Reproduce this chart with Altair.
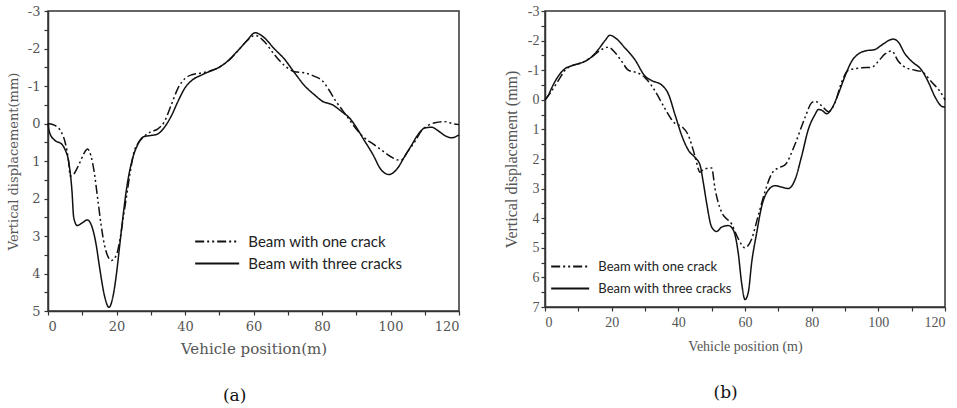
import altair as alt
import pandas as pd

# ---------------- data ----------------
# Panel (a)
a_three_x = [0, 0.5, 2, 4, 5, 6, 7, 7.5, 8.5, 10, 11.5, 13, 14, 15, 16.5, 17.8, 19, 20, 21, 22, 23,
             24.5, 26, 28, 30, 32, 34, 36, 38, 40, 42, 45, 48, 50, 52, 55, 58, 60.5, 63, 66, 69,
             72, 75, 78, 80, 83, 86, 88, 90, 92, 95, 97, 99.5, 102, 104, 106, 108, 110, 112, 114,
             116, 118, 120]
a_three_y = [0, 0.25, 0.45, 0.55, 0.7, 1.0, 1.8, 2.5, 2.72, 2.65, 2.57, 2.8, 3.2, 3.8, 4.6, 4.9, 4.6,
             4.0, 3.2, 2.4, 1.7, 1.0, 0.6, 0.35, 0.32, 0.28, 0.1, -0.2, -0.6, -0.95, -1.15, -1.3,
             -1.42, -1.5, -1.63, -1.9, -2.2, -2.42, -2.3, -2.0, -1.72, -1.35, -1.0, -0.75, -0.6,
             -0.5, -0.3, -0.15, 0.1, 0.4, 0.85, 1.2, 1.36, 1.2, 0.9, 0.6, 0.3, 0.12, 0.1, 0.2,
             0.33, 0.38, 0.3]
a_one_x = [0, 2, 4, 5, 6, 6.5, 7.5, 9, 10.5, 11.5, 12.5, 13.5, 14.5, 15.5, 16.5, 18.5, 20, 21, 22,
           23, 24, 25, 26.5, 28, 30, 32, 34, 36, 38, 40, 42, 45, 48, 50, 53, 56, 58, 60.5, 63, 66,
           69, 72, 75, 78, 80, 82, 84, 86, 88, 90, 92, 95, 98, 100, 102, 103, 105, 107, 109, 111,
           113, 116, 118, 120]
a_one_y = [0, 0.05, 0.25, 0.5, 1.0, 1.4, 1.35, 1.1, 0.8, 0.68, 0.85, 1.3, 2.0, 2.7, 3.25, 3.65, 3.5,
           3.1, 2.5, 1.9, 1.3, 0.8, 0.5, 0.35, 0.22, 0.15, -0.05, -0.5, -0.95, -1.2, -1.3, -1.35,
           -1.42, -1.5, -1.7, -2.0, -2.2, -2.35, -2.2, -1.85, -1.55, -1.38, -1.35, -1.25, -1.15,
           -0.9, -0.6, -0.35, -0.1, 0.15, 0.35, 0.55, 0.75, 0.88, 0.97, 0.98, 0.75, 0.5, 0.2,
           0.05, -0.02, -0.05, 0.0, 0.03]

# Panel (b)
b_three_x = [0, 1, 2, 4, 6, 8, 10, 12, 14, 16, 18, 19.5, 21, 24, 27, 30, 32, 35, 37, 39, 41, 43, 45,
             46.5, 47.5, 48.5, 50, 51.5, 53, 55, 56.5, 58, 59, 60, 61, 62, 63.5, 65, 67, 69, 71,
             73, 75, 77, 79, 81, 82, 83, 84.5, 86, 88, 90, 92, 94, 96, 99, 101, 104.5, 106, 108,
             110, 113, 115, 117, 119, 120]
b_three_y = [0, -0.15, -0.4, -0.8, -1.05, -1.15, -1.22, -1.3, -1.45, -1.7, -2.0, -2.18, -2.1, -1.75,
             -1.35, -0.8, -0.65, -0.5, -0.2, 0.5, 1.2, 1.7, 1.95, 2.2, 2.8, 3.5, 4.3, 4.45, 4.3,
             4.25, 4.4, 5.2, 6.2, 6.75, 6.5, 5.5, 4.5, 3.6, 3.05, 2.9, 2.95, 3.0, 2.7, 1.9, 1.0,
             0.5, 0.33, 0.35, 0.47, 0.3, -0.2, -0.8, -1.3, -1.55, -1.65, -1.7, -1.85, -2.05, -1.95,
             -1.55, -1.3, -1.0, -0.6, -0.1, 0.22, 0.25]
b_one_x = [0, 2, 4, 6, 8, 11, 14, 17, 19, 21, 23, 25, 28, 30, 33, 36, 39, 41, 43, 45, 46.5, 47.5,
           50, 51, 53, 56, 58, 60, 62, 64, 66, 68, 70, 72, 75, 78, 80, 81, 83, 85, 87, 89, 91, 95,
           98, 100, 102, 104, 106, 108, 111, 113, 116, 119, 120]
b_one_y = [0, -0.3, -0.65, -1.0, -1.15, -1.25, -1.45, -1.7, -1.78, -1.6, -1.3, -1.0, -0.9, -0.75,
           -0.3, 0.3, 0.8, 0.9, 1.2, 1.9, 2.45, 2.35, 2.3, 3.0, 3.8, 4.2, 4.7, 5.0, 4.7, 3.9, 3.1,
           2.5, 2.3, 2.2, 1.5, 0.6, 0.1, 0.05, 0.2, 0.4, 0.1, -0.6, -1.0, -1.08, -1.1, -1.3,
           -1.55, -1.65, -1.3, -1.1, -1.0, -0.95, -0.6, -0.2, 0.0]

series_names = ["Beam with one crack", "Beam with three cracks"]
x_ticks = [0, 10, 20, 30, 40, 50, 60, 70, 80, 90, 100, 110, 120]
y_ticks_a = [v / 2 for v in range(-6, 11)]
y_ticks_b = [v / 2 for v in range(-6, 15)]


def frame(xs1, ys1, xs3, ys3):
    d1 = pd.DataFrame({"x": xs1, "y": ys1, "s": series_names[0]})
    d3 = pd.DataFrame({"x": xs3, "y": ys3, "s": series_names[1]})
    d1["o"] = range(len(d1))
    d3["o"] = range(len(d3))
    return pd.concat([d1, d3], ignore_index=True)


df_a = frame(a_one_x, a_one_y, a_three_x, a_three_y)
df_b = frame(b_one_x, b_one_y, b_three_x, b_three_y)

DASH = [9, 3, 2, 3, 2, 3]
LEGEND_SHAPE = "M-1,0H5"   # line drawn from the symbol's left edge, 6 half-units long


def panel(df, ydom, yticks, w, h, xtitle, ytitle, font, tick_font, lab_fs, xt_fs, yt_fs,
          ylabpad, ytitlepad, xlabpad, xtitlepad, leg_x, leg_y, leg_fs, leg_len, leg_row,
          caption):
    xaxis = alt.Axis(
        values=x_ticks, title=xtitle,
        labelExpr="datum.value % 20 == 0 ? '' + datum.value : ''",
        labelOverlap=False, labelFont=tick_font, labelFontSize=lab_fs, labelColor="#555",
        labelPadding=xlabpad, titleFont=font, titleFontSize=xt_fs, titleFontWeight="normal",
        titleColor="#555", titlePadding=xtitlepad, grid=False, ticks=True,
        domainColor="#333", domainWidth=1.5, tickColor="#333", tickWidth=1.2, tickSize=4,
    )
    yaxis = alt.Axis(
        values=yticks, title=ytitle,
        labelExpr="datum.value % 1 == 0 ? '' + datum.value : ''",
        labelOverlap=False, labelFont=tick_font, labelFontSize=lab_fs, labelColor="#555",
        labelPadding=ylabpad, titleFont=font, titleFontSize=yt_fs, titleFontWeight="normal",
        titleColor="#555", titlePadding=ytitlepad, grid=False, ticks=True,
        domainColor="#333", domainWidth=1.5, tickColor="#333", tickWidth=1.2, tickSize=4,
    )
    sym = leg_len / 3.0  # symbol box size so that the drawn line is leg_len long
    lines = alt.Chart(df).mark_line(interpolate="monotone", color="#111", strokeWidth=1.5).encode(
        x=alt.X("x:Q", scale=alt.Scale(domain=[0, 120], nice=False), axis=xaxis),
        y=alt.Y("y:Q", scale=alt.Scale(domain=ydom, nice=False, reverse=True), axis=yaxis),
        strokeDash=alt.StrokeDash(
            "s:N",
            scale=alt.Scale(domain=series_names, range=[DASH, [1, 0]]),
            legend=alt.Legend(
                title=None, orient="none", legendX=leg_x, legendY=leg_y,
                symbolType=LEGEND_SHAPE, symbolStrokeColor="#111", symbolStrokeWidth=2,
                symbolFillColor="transparent",
                symbolSize=sym * sym, labelFont="Lato", labelFontSize=leg_fs,
                labelColor="#222", labelOffset=leg_len + 8 - sym, rowPadding=leg_row,
                padding=0, labelLimit=300,
            ),
        ),
        order="o:Q",
    )
    return alt.LayerChart(layer=[lines]).properties(
        width=w, height=h,
        title=alt.TitleParams(
            text=caption, orient="bottom", anchor="middle", frame="bounds",
            font="DejaVu Serif", fontSize=17, fontWeight="normal", color="#111", offset=32,
        ),
    )


pa = panel(df_a, [-3, 5], y_ticks_a, 411, 300, "Vehicle position(m)", "Vertical displacement(mm)",
           "DejaVu Serif", "DejaVu Serif", 13, 15, 13, 4, 7, 5, 8,
           146, 222, 15, 44, 5, "(a)")
pb = panel(df_b, [-3, 7], y_ticks_b, 400, 296, "Vehicle position (m)", "Vertical displacement (mm)",
           "Liberation Serif", "Liberation Serif", 14, 14, 16, 2, 8, 4, 10,
           5, 248, 13, 38, 7, "(b)")

chart = alt.hconcat(pa, pb, spacing=39).resolve_scale(strokeDash="independent").resolve_legend(
    strokeDash="independent"
).properties(
    padding={"left": 6, "top": 3, "right": 0, "bottom": 0},
    background="white",
).configure_view(stroke="#333", strokeWidth=1.5)

chart.save("out.html", embed_options={"renderer": "svg", "actions": False})
